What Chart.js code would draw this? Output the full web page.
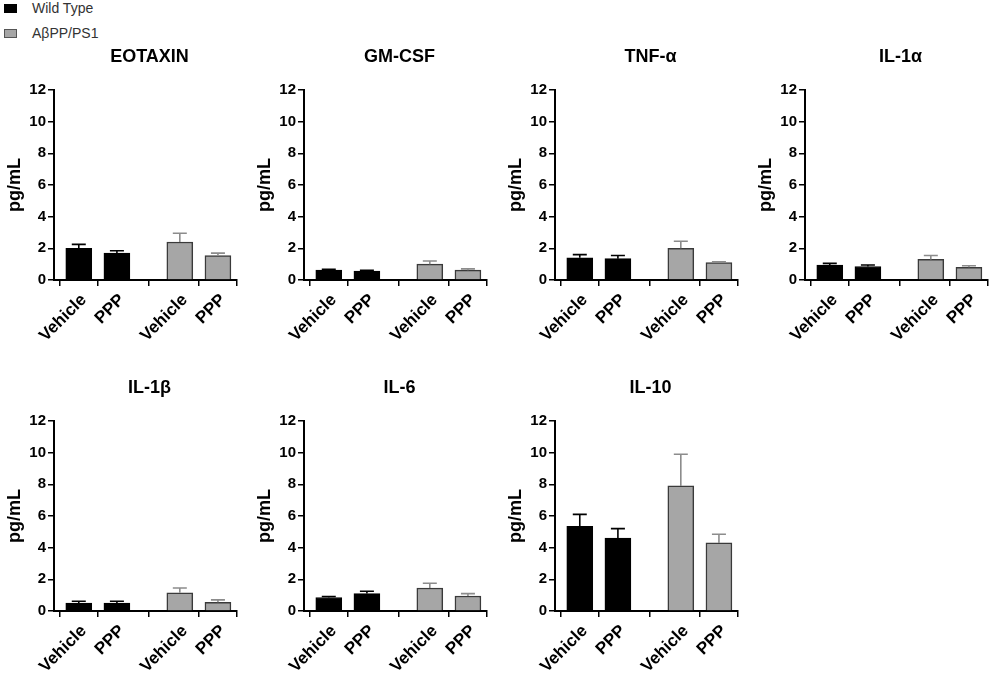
<!DOCTYPE html>
<html>
<head>
<meta charset="utf-8">
<script src="https://cdn.jsdelivr.net/npm/chart.js@4"></script>
<style>
  body { margin: 0; background: #fff; font-family: "Liberation Sans", Arial, sans-serif; }
  #wrap { position: relative; width: 1000px; height: 680px; overflow: hidden; }
  .panel { position: absolute; width: 250px; height: 318px; }
  .legend { position: absolute; left: 4px; font-size: 14px; color: #333; }
  .legend span { display: inline-block; width: 13px; height: 9px; margin-right: 15px; vertical-align: 0px; box-sizing: border-box; }
</style>
</head>
<body>
<div id="wrap">
  <div class="legend" style="top:0px"><span style="background:#000"></span>Wild Type</div>
  <div class="legend" style="top:25px"><span style="background:#a6a6a6;border:1px solid #555"></span>AβPP/PS1</div>
</div>
<script>
// cytokine panels (pg/mL, mean and upper SEM)
const titles = ['EOTAXIN', 'GM-CSF', 'TNF-α', 'IL-1α', 'IL-1β', 'IL-6', 'IL-10'];
const treatments = ['Vehicle', 'PPP'];
const wildTypeMean = [[2.0, 1.7], [0.62, 0.57], [1.4, 1.35], [0.95, 0.85], [0.5, 0.5], [0.85, 1.1], [5.35, 4.6]];
const wildTypeErr  = [[0.25, 0.15], [0.05, 0.05], [0.2, 0.2], [0.1, 0.1], [0.12, 0.12], [0.07, 0.15], [0.75, 0.6]];
const appMean = [[2.4, 1.55], [1.0, 0.62], [2.0, 1.1], [1.3, 0.8], [1.15, 0.55], [1.45, 0.95], [7.9, 4.3]];
const appErr  = [[0.55, 0.15], [0.2, 0.08], [0.45, 0.05], [0.25, 0.1], [0.3, 0.15], [0.3, 0.15], [2.0, 0.55]];
const yTicks = [0, 2, 4, 6, 8, 10, 12];

// where the four bars sit on the x axis (axis runs 0..4.8)
const slots = [0.65, 1.65, 3.3, 4.3];

const FONT = '"Liberation Sans", Arial';

// draws upper error bars with a cap
const errorBars = {
  id: 'errorBars',
  afterDatasetsDraw(chart) {
    const ctx = chart.ctx;
    const y = chart.scales.y;
    chart.data.datasets.forEach((ds, i) => {
      const meta = chart.getDatasetMeta(i);
      meta.data.forEach((bar, j) => {
        const top = y.getPixelForValue(ds.data[j].y + ds.err[j]);
        ctx.save();
        ctx.strokeStyle = ds.errColor;
        ctx.lineWidth = 1.6;
        ctx.beginPath();
        ctx.moveTo(bar.x, bar.y);
        ctx.lineTo(bar.x, top);
        ctx.moveTo(bar.x - 7, top);
        ctx.lineTo(bar.x + 7, top);
        ctx.stroke();
        ctx.restore();
      });
    });
  }
};

// panel title centred over the plot area
const panelTitle = {
  id: 'panelTitle',
  afterDraw(chart, args, opts) {
    const ctx = chart.ctx;
    const a = chart.chartArea;
    ctx.save();
    ctx.fillStyle = '#000';
    ctx.font = 'bold 18px ' + FONT;
    ctx.textAlign = 'center';
    ctx.textBaseline = 'middle';
    ctx.fillText(opts.text, (a.left + a.right) / 2 + 4, 17);
    ctx.restore();
  }
};

const wrap = document.getElementById('wrap');

titles.forEach((title, p) => {
  const col = p % 4;
  const row = Math.floor(p / 4);
  const box = document.createElement('div');
  box.className = 'panel';
  box.style.left = (250 * col + (col > 1 ? 1 : 0)) + 'px';
  box.style.top = (40 + 331 * row) + 'px';
  const canvas = document.createElement('canvas');
  box.appendChild(canvas);
  wrap.appendChild(box);

  new Chart(canvas, {
    type: 'bar',
    data: {
      datasets: [
        {
          label: 'Wild Type',
          data: treatments.map((t, j) => ({ x: slots[j], y: wildTypeMean[p][j] })),
          err: wildTypeErr[p],
          backgroundColor: '#000',
          borderColor: '#000',
          borderWidth: 1,
          errColor: '#000'
        },
        {
          label: 'AβPP/PS1',
          data: treatments.map((t, j) => ({ x: slots[j + 2], y: appMean[p][j] })),
          err: appErr[p],
          backgroundColor: '#a6a6a6',
          borderColor: '#3a3a3a',
          borderWidth: 1.5,
          errColor: '#8c8c8c'
        }
      ]
    },
    options: {
      responsive: true,
      maintainAspectRatio: false,
      animation: false,
      grouped: false,
      barThickness: 26,
      layout: { padding: { left: 4, right: 13, top: 50, bottom: 18 } },
      plugins: {
        legend: { display: false },
        tooltip: { enabled: false },
        title: { display: false },
        panelTitle: { text: title }
      },
      scales: {
        x: {
          type: 'linear',
          min: 0,
          max: 4.8,
          offset: false,
          afterBuildTicks: s => { s.ticks = slots.map(v => ({ value: v })); },
          afterFit: s => { s.height = 60; },
          ticks: {
            callback: (v, i) => treatments[i % 2],
            autoSkip: false,
            minRotation: 45,
            maxRotation: 45,
            color: '#000',
            padding: 4,
            labelOffset: 5,
            font: { size: 17, weight: 'bold', family: FONT }
          },
          grid: { drawOnChartArea: false, drawTicks: true, tickLength: 6, color: '#000', lineWidth: 1.5 },
          border: { display: true, color: '#000', width: 2 }
        },
        y: {
          min: 0,
          max: 12,
          afterBuildTicks: s => { s.ticks = yTicks.map(v => ({ value: v })); },
          afterFit: s => { s.width = 50; },
          ticks: {
            color: '#000',
            padding: 2,
            font: { size: 15, weight: 'bold', family: FONT }
          },
          grid: { drawOnChartArea: false, drawTicks: true, tickLength: 6, color: '#000', lineWidth: 1.5 },
          border: { display: true, color: '#000', width: 2 },
          title: {
            display: true,
            text: 'pg/mL',
            color: '#000',
            padding: { top: 0, bottom: 1 },
            font: { size: 18, weight: 'bold', family: FONT }
          }
        }
      }
    },
    plugins: [errorBars, panelTitle]
  });
});
</script>
</body>
</html>
